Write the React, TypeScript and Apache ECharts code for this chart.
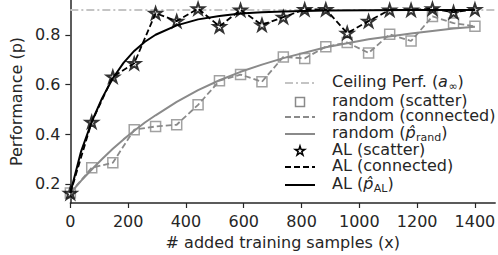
import React, { useEffect, useRef } from "react";
import * as echarts from "echarts";

const xVals = [0, 74, 147, 221, 295, 368, 442, 516, 589, 663, 737, 811, 884, 958, 1032, 1105, 1179, 1253, 1326, 1400];
const randomVals = [0.163, 0.265, 0.285, 0.418, 0.431, 0.438, 0.518, 0.615, 0.64, 0.611, 0.711, 0.705, 0.752, 0.769, 0.727, 0.802, 0.775, 0.874, 0.847, 0.834];
const alVals = [0.163, 0.449, 0.631, 0.685, 0.887, 0.855, 0.905, 0.834, 0.9, 0.84, 0.871, 0.902, 0.902, 0.807, 0.855, 0.9, 0.9, 0.905, 0.891, 0.902];

const fitX = [0, 37, 74, 110, 147, 184, 221, 258, 295, 368, 442, 516, 589, 663, 737, 884, 1032, 1179, 1326, 1400];
const alFit = [0.163, 0.33, 0.45, 0.545, 0.625, 0.687, 0.735, 0.772, 0.8, 0.838, 0.862, 0.876, 0.886, 0.891, 0.894, 0.898, 0.899, 0.9, 0.9, 0.9];
const randFit = [0.163, 0.212, 0.258, 0.3, 0.341, 0.379, 0.414, 0.447, 0.476, 0.53, 0.577, 0.617, 0.651, 0.68, 0.706, 0.75, 0.782, 0.805, 0.825, 0.832];

const ceilingValue = 0.9;
const xRange = [0, 1470];
const xTicks = [0, 200, 400, 600, 800, 1000, 1200, 1400];
const yTicks = [0.2, 0.4, 0.6, 0.8];

// legend labels as segments: [text, kind] where kind: "t" normal, "i" italic, "s" subscript
const legendLabels: [string, string][][] = [
  [["Ceiling Perf. (", "t"], ["a", "i"], ["∞", "s"], [")", "t"]],
  [["random (scatter)", "t"]],
  [["random (connected)", "t"]],
  [["random (", "t"], ["p̂", "i"], ["rand", "s"], [")", "t"]],
  [["AL (scatter)", "t"]],
  [["AL (connected)", "t"]],
  [["AL (", "t"], ["p̂", "i"], ["AL", "s"], [")", "t"]],
];

const FONT = "DejaVu Sans";
const INK = "#262626";
const GRAY = "#8a8a8a";
const LIGHT = "#c4c4c4";
const STAR =
  "path://M0,-10 L2.245,-3.09 L9.511,-3.09 L3.633,1.18 L5.878,8.09 L0,3.82 L-5.878,8.09 L-3.633,1.18 L-9.511,-3.09 L-2.245,-3.09 Z";
const STAR_PTS = [
  [0, -10], [2.245, -3.09], [9.511, -3.09], [3.633, 1.18], [5.878, 8.09],
  [0, 3.82], [-5.878, 8.09], [-3.633, 1.18], [-9.511, -3.09], [-2.245, -3.09],
];

export default function App() {
  const ref = useRef<HTMLDivElement>(null);
  useEffect(() => {
    if (!ref.current) return;
    const chart = echarts.init(ref.current, null, { renderer: "svg" });
    const pair = (xs: number[], ys: number[]) => xs.map((x, i) => [x, ys[i]]);
    const ctx = document.createElement("canvas").getContext("2d")!;

    const rowY = [83, 102, 117, 134, 151, 167, 185];
    const iconX0 = 285;
    const iconX1 = 315;
    const textX = 332;

    const buildLegend = (scale: number) => {
      const g: any[] = [];
      const lineIcon = (id: string, y: number, color: string, dash: any, w: number) => ({
        id,
        type: "line",
        shape: { x1: iconX0, y1: y, x2: iconX1, y2: y },
        style: { stroke: color, lineWidth: w, lineDash: dash },
      });
      g.push(lineIcon("ic0", rowY[0], LIGHT, [8, 3, 2, 3], 2));
      g.push({
        id: "ic1",
        type: "rect",
        shape: { x: 295.5, y: rowY[1] - 4.5, width: 9, height: 9 },
        style: { stroke: GRAY, lineWidth: 1.5, fill: "none" },
      });
      g.push(lineIcon("ic2", rowY[2], GRAY, [6, 3], 2));
      g.push(lineIcon("ic3", rowY[3], GRAY, null, 2));
      g.push({
        id: "ic4",
        type: "polygon",
        x: 300,
        y: rowY[4],
        scaleX: 0.5,
        scaleY: 0.5,
        shape: { points: STAR_PTS },
        style: { stroke: "#000", lineWidth: 3, fill: "#fff" },
      });
      g.push(lineIcon("ic5", rowY[5], "#000", [6, 3], 2));
      g.push(lineIcon("ic6", rowY[6], "#000", null, 2));

      legendLabels.forEach((segs, k) => {
        let x = textX;
        const yMid = rowY[k] - 2;
        segs.forEach(([txt, kind], j) => {
          const size = kind === "s" ? 11 : 16;
          const italic = kind === "i";
          ctx.font = `${italic ? "italic " : ""}${size}px ${FONT}`;
          const w = ctx.measureText(txt).width;
          g.push({
            id: `lt${k}_${j}`,
            type: "text",
            x,
            y: kind === "s" ? yMid + 5 : yMid,
            scaleX: scale,
            style: {
              text: txt,
              fontSize: size,
              fontFamily: FONT,
              fontStyle: italic ? "italic" : "normal",
              fill: INK,
              align: "left",
              verticalAlign: "middle",
            },
          });
          x += w + (italic ? 0.5 : 0);
        });
      });
      return g;
    };

    chart.setOption({
      animation: false,
      grid: { left: 64, right: 2, top: 0, bottom: 51, containLabel: false },
      textStyle: { fontFamily: FONT },
      xAxis: {
        type: "value",
        min: xRange[0],
        max: xRange[1],
        name: "# added training samples (x)",
        nameLocation: "middle",
        nameGap: 31,
        nameTextStyle: { fontSize: 16, color: INK, fontFamily: FONT },
        axisLine: { show: true, lineStyle: { color: INK, width: 1.5 } },
        axisTick: { show: true, length: 5, lineStyle: { color: INK, width: 1.2 }, customValues: xTicks },
        axisLabel: {
          fontSize: 16,
          color: INK,
          margin: 10,
          fontFamily: FONT,
          customValues: xTicks,
          formatter: (v: number) => String(Math.round(v)),
        },
        splitLine: { show: false },
      },
      yAxis: {
        type: "value",
        min: 0.123,
        max: 0.94,
        name: "Performance (p)",
        nameLocation: "middle",
        nameGap: 45,
        nameRotate: 90,
        nameTextStyle: { fontSize: 16, color: INK, fontFamily: FONT },
        axisLine: { show: true, lineStyle: { color: INK, width: 1.5 } },
        axisTick: { show: true, length: 5, lineStyle: { color: INK, width: 1.2 }, customValues: yTicks },
        axisLabel: {
          fontSize: 16,
          color: INK,
          margin: 10,
          fontFamily: FONT,
          customValues: yTicks,
          formatter: (v: number) => v.toFixed(1),
        },
        splitLine: { show: false },
      },
      series: [
        {
          name: "Ceiling",
          type: "line",
          symbol: "none",
          data: [[xRange[0], ceilingValue], [xRange[1], ceilingValue]],
          lineStyle: { color: LIGHT, width: 2, type: [8, 3, 2, 3] },
          z: 1,
        },
        {
          name: "random fit",
          type: "line",
          symbol: "none",
          data: pair(fitX, randFit),
          lineStyle: { color: GRAY, width: 2 },
          z: 2,
        },
        {
          name: "random connected",
          type: "line",
          symbol: "none",
          data: pair(xVals, randomVals),
          lineStyle: { color: GRAY, width: 1.8, type: [6, 3] },
          z: 2,
        },
        {
          name: "random scatter",
          type: "scatter",
          symbol: "rect",
          symbolSize: 10,
          data: pair(xVals, randomVals),
          itemStyle: { color: "rgba(255,255,255,0)", borderColor: GRAY, borderWidth: 1.5 },
          z: 3,
        },
        {
          name: "AL fit",
          type: "line",
          symbol: "none",
          data: pair(fitX, alFit),
          lineStyle: { color: "#000", width: 2 },
          z: 4,
        },
        {
          name: "AL connected",
          type: "line",
          symbol: "none",
          data: pair(xVals, alVals),
          lineStyle: { color: "#000", width: 1.8, type: [6, 3] },
          z: 4,
        },
        {
          name: "AL scatter",
          type: "scatter",
          symbol: STAR,
          symbolSize: 12,
          symbolKeepAspect: true,
          data: pair(xVals, alVals),
          itemStyle: { color: "rgba(255,255,255,0)", borderColor: "#000", borderWidth: 2 },
          z: 5,
        },
      ],
      graphic: buildLegend(1),
    });

    // if the SVG text renders narrower than the DejaVu metrics, stretch legend texts to match
    try {
      const probe = "random (connected)";
      ctx.font = `16px ${FONT}`;
      const target = ctx.measureText(probe).width;
      const el = Array.from(ref.current.querySelectorAll("text")).find(
        (t) => (t.textContent || "").trim() === probe
      ) as SVGTextElement | undefined;
      if (el && el.getComputedTextLength) {
        const actual = el.getComputedTextLength();
        if (actual > 0 && Math.abs(actual - target) > 2) {
          chart.setOption({ graphic: buildLegend(target / actual) });
        }
      }
    } catch (e) {
      // ignore
    }
    return () => chart.dispose();
  }, []);
  return (
    <div
      ref={ref}
      style={{ position: "fixed", left: 0, top: 0, width: 498, height: 255, background: "#fff" }}
    />
  );
}
